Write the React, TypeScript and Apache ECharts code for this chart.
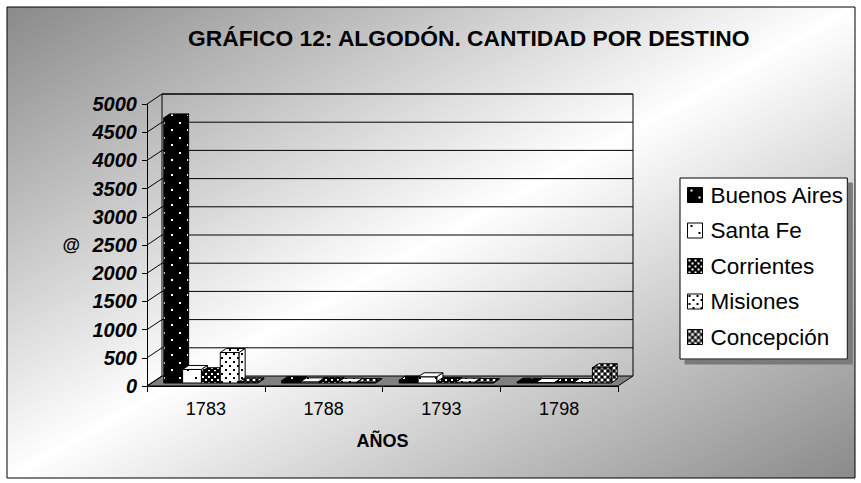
import React, { useEffect, useRef } from 'react';
import * as echarts from 'echarts';

// ---------- data ----------
const CATEGORIES = ['1783', '1788', '1793', '1798'];
const SERIES_NAMES = ['Buenos Aires', 'Santa Fe', 'Corrientes', 'Misiones', 'Concepción'];
const BUENOS_AIRES = [4700, 40, 50, 15];
const SANTA_FE = [240, 20, 110, 8];
const CORRIENTES = [200, 30, 25, 10];
const MISIONES = [540, 15, 15, 10];
const CONCEPCION = [20, 10, 8, 270];
const Y_MIN = 0;
const Y_MAX = 5000;
const Y_STEP = 500;
const TITLE = 'GRÁFICO 12: ALGODÓN. CANTIDAD POR DESTINO';
const X_NAME = 'AÑOS';
const Y_NAME = '@';

// ---------- styling / geometry ----------
const FONT = '"Liberation Sans", Arial, sans-serif';
const DX = 15; // wall depth offset
const DY = -10;
const BOX_OX = 5; // bar front offset within depth
const BOX_OY = -3;
const BDX = 6; // bar depth
const BDY = -4;
const BAR_RATIO = 0.16;

type Dot = [number, number, number, number, string];
function makePattern(w: number, h: number, bg: string, dots: Dot[]) {
  const c = document.createElement('canvas');
  c.width = w;
  c.height = h;
  const ctx = c.getContext('2d')!;
  ctx.fillStyle = bg;
  ctx.fillRect(0, 0, w, h);
  dots.forEach(([x, y, dw, dh, col]) => {
    ctx.fillStyle = col;
    ctx.fillRect(x, y, dw, dh);
  });
  return { image: c, repeat: 'repeat' } as any;
}

export default function App() {
  const ref = useRef<HTMLDivElement>(null);

  useEffect(() => {
    if (!ref.current) return;
    const chart = echarts.init(ref.current, undefined, { renderer: 'svg' });

    const patterns = [
      makePattern(16, 15, '#000', [[3, 2, 2, 2, '#fff'], [11, 9, 2, 2, '#fff']]),
      makePattern(16, 15, '#fff', [[3, 2, 2, 2, '#000'], [11, 9, 2, 2, '#000']]),
      makePattern(6, 6, '#000', [[1, 1, 2, 2, '#fff'], [4, 4, 2, 2, '#fff']]),
      makePattern(8, 8, '#fff', [[1, 1, 2, 2, '#000'], [5, 5, 2, 2, '#000']]),
      makePattern(6, 6, '#555', [[1, 1, 2, 2, '#fff'], [4, 4, 2, 2, '#fff'], [4, 1, 2, 2, '#000'], [1, 4, 2, 2, '#000']]),
    ];
    const seriesValues = [BUENOS_AIRES, SANTA_FE, CORRIENTES, MISIONES, CONCEPCION];

    const barRender = (idx: number, pattern: any) => (params: any, api: any) => {
      const cat = api.value(0);
      const v = api.value(1);
      const base = api.coord([cat, 0]);
      const top = api.coord([cat, v]);
      const cw = api.size([1, 0])[0];
      const bw = cw * BAR_RATIO;
      const x0 = base[0] - 2.5 * bw + idx * bw + BOX_OX;
      const x1 = x0 + bw;
      const yb = base[1] + BOX_OY;
      const yt = top[1] + BOX_OY;
      const st = { fill: pattern, stroke: '#000', lineWidth: 1 };
      return {
        type: 'group',
        children: [
          { type: 'polygon', shape: { points: [[x0, yb], [x1, yb], [x1, yt], [x0, yt]] }, style: st },
          { type: 'polygon', shape: { points: [[x0, yt], [x1, yt], [x1 + BDX, yt + BDY], [x0 + BDX, yt + BDY]] }, style: st },
          { type: 'polygon', shape: { points: [[x1, yb], [x1 + BDX, yb + BDY], [x1 + BDX, yt + BDY], [x1, yt]] }, style: st },
        ],
      };
    };

    const frameRender = (params: any, api: any) => {
      const cs = params.coordSys;
      const L = cs.x;
      const R = cs.x + cs.width;
      const T = cs.y;
      const B = cs.y + cs.height;
      const ln = { stroke: '#000', lineWidth: 1 };
      const children: any[] = [
        { type: 'polygon', shape: { points: [[L, B], [R, B], [R + DX, B + DY], [L + DX, B + DY]] }, style: { fill: '#808080', stroke: '#000', lineWidth: 1 } },
        { type: 'polyline', shape: { points: [[L + DX, B + DY], [L + DX, T + DY], [R + DX, T + DY], [R + DX, B + DY]] }, style: { fill: null, ...ln } },
      ];
      for (let v = Y_MIN; v <= Y_MAX; v += Y_STEP) {
        const y = api.coord([0, v])[1];
        children.push({ type: 'line', shape: { x1: L, y1: y, x2: L + DX, y2: y + DY }, style: ln });
        if (v > Y_MIN) children.push({ type: 'line', shape: { x1: L + DX, y1: y + DY, x2: R + DX, y2: y + DY }, style: ln });
      }
      return { type: 'group', children };
    };

    const option: any = {
      animation: false,
      backgroundColor: '#fff',
      graphic: [
        {
          type: 'rect',
          z: -100,
          shape: { x: 7, y: 7, width: 848, height: 471 },
          style: {
            fill: new echarts.graphic.LinearGradient(0, 0, 1, 1, [
              { offset: 0, color: '#8a8a8a' },
              { offset: 0.5, color: '#ffffff' },
              { offset: 1, color: '#8a8a8a' },
            ]),
            stroke: '#000',
            lineWidth: 1,
          },
        },
      ],
      title: {
        text: TITLE,
        left: 188,
        top: 26,
        padding: 0,
        textStyle: { fontFamily: FONT, fontSize: 22.8, fontWeight: 'bold', color: '#000' },
      },
      legend: {
        orient: 'vertical',
        left: 680,
        top: 178,
        icon: 'rect',
        itemWidth: 15,
        itemHeight: 15,
        itemGap: 11.5,
        padding: [5, 3, 10, 7],
        backgroundColor: '#fff',
        borderColor: '#000',
        borderWidth: 1,
        shadowColor: '#7a7a7a',
        shadowBlur: 0,
        shadowOffsetX: 5,
        shadowOffsetY: 5,
        textStyle: { fontFamily: FONT, fontSize: 22.5, lineHeight: 24, color: '#000', padding: [0, 0, 0, 3] },
        data: SERIES_NAMES.map((n, i) => ({ name: n, itemStyle: { color: patterns[i], borderColor: '#000', borderWidth: 1 } })),
      },
      grid: { left: 147, right: 243, top: 104, bottom: 97, containLabel: false, outerBoundsMode: 'none' },
      xAxis: {
        type: 'category',
        data: CATEGORIES,
        boundaryGap: true,
        name: X_NAME,
        nameLocation: 'middle',
        nameGap: 46,
        nameTextStyle: { fontFamily: FONT, fontSize: 18, fontWeight: 'bold', color: '#000' },
        axisLine: { show: true, lineStyle: { color: '#000', width: 1 } },
        axisTick: { show: true, length: 6, alignWithLabel: false, interval: 0, lineStyle: { color: '#000' } },
        axisLabel: { fontFamily: FONT, fontSize: 18, color: '#000', margin: 14 },
        splitLine: { show: false },
      },
      yAxis: {
        type: 'value',
        min: Y_MIN,
        max: Y_MAX,
        interval: Y_STEP,
        name: Y_NAME,
        nameLocation: 'middle',
        nameGap: 67,
        nameRotate: 0,
        nameTextStyle: { fontFamily: FONT, fontSize: 18, fontWeight: 'bold', color: '#000' },
        axisLine: { show: true, lineStyle: { color: '#000', width: 1 } },
        axisTick: { show: true, length: 5, lineStyle: { color: '#000' } },
        axisLabel: {
          fontFamily: FONT,
          fontSize: 20,
          fontWeight: 'bold',
          fontStyle: 'italic',
          color: '#000',
          margin: 10,
          formatter: (v: number) => String(v),
        },
        splitLine: { show: false },
      },
      series: [
        {
          type: 'custom',
          name: '__frame',
          z: 1,
          silent: true,
          renderItem: frameRender,
          data: [[0, 0]],
          encode: { x: 0, y: 1 },
        },
        ...SERIES_NAMES.map((n, i) => ({
          type: 'custom',
          name: n,
          z: 3 + i,
          itemStyle: { color: patterns[i] },
          renderItem: barRender(i, patterns[i]),
          data: seriesValues[i].map((v, k) => [k, v]),
          encode: { x: 0, y: 1 },
        })),
      ],
    };

    chart.setOption(option);
    return () => chart.dispose();
  }, []);

  return (
    <div
      ref={ref}
      style={{ position: 'fixed', left: 0, top: 0, width: 861, height: 483 }}
    />
  );
}
